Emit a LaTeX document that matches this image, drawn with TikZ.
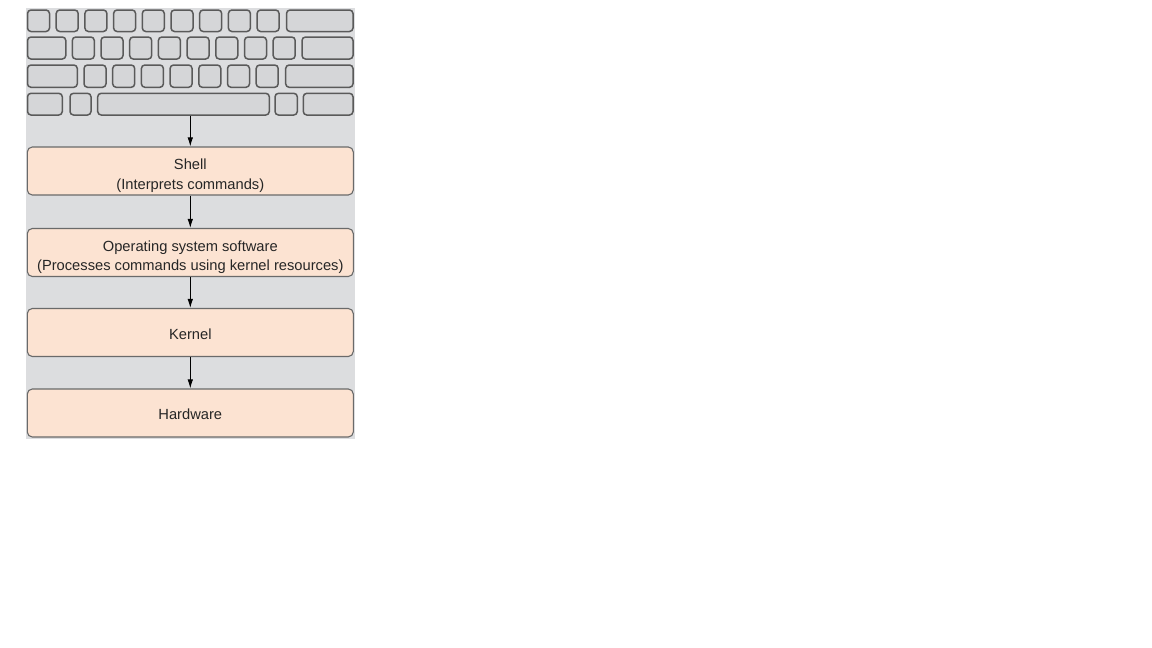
\documentclass[tikz,border=0pt]{standalone}
\usepackage{fontspec}
\setmainfont{Liberation Sans}
\usetikzlibrary{arrows.meta}
\definecolor{bggray}{HTML}{DCDDDF}
\definecolor{keyfill}{HTML}{D5D6D8}
\definecolor{keyline}{HTML}{5A5A5A}
\definecolor{peach}{HTML}{FCE3D2}
\definecolor{boxline}{HTML}{6A6A6A}
\tikzset{
  keystyle/.style={draw=keyline, fill=keyfill, line width=1.5pt, rounded corners=3.5pt},
  layerbox/.style={draw=boxline, fill=peach, line width=1.1pt, rounded corners=5pt,
    minimum width=326pt, minimum height=48pt, inner sep=0pt},
  layertext/.style={align=center, inner sep=0pt,
    font=\fontsize{14.7}{19.5}\selectfont, text=black!85},
  flow/.style={draw=black, line width=0.9pt, -{Latex[length=9pt,width=5.5pt]}}
}
\begin{document}
\begin{tikzpicture}[x=1pt,y=-1pt]
\useasboundingbox (0,0) rectangle (1152,648);
\fill[white] (0,0) rectangle (1152,648);
\fill[bggray] (26,8) rectangle (355,439);
% row 1
\foreach \x in {27.5,56.2,84.9,113.6,142.3,171,199.7,228.4,257.1}
  \draw[keystyle] (\x,10) rectangle ++(22,21.5);
\draw[keystyle] (286.5,10) rectangle (353,31.5);
% row 2
\draw[keystyle] (27.5,37) rectangle (65.8,59);
\foreach \x in {72.3,101,129.7,158.4,187.1,215.8,244.5,273.2}
  \draw[keystyle] (\x,37) rectangle ++(22,22);
\draw[keystyle] (302,37) rectangle (353,59);
% row 3
\draw[keystyle] (27.5,65) rectangle (77.3,87.3);
\foreach \x in {84,112.7,141.4,170.1,198.8,227.5,256.2}
  \draw[keystyle] (\x,65) rectangle ++(22,22.3);
\draw[keystyle] (285.7,65) rectangle (353,87.3);
% row 4
\draw[keystyle] (27.5,93.3) rectangle (62.3,115);
\draw[keystyle] (70,93.3) rectangle (91,115);
\draw[keystyle] (97.7,93.3) rectangle (269.3,115);
\draw[keystyle] (275,93.3) rectangle (297.3,115);
\draw[keystyle] (303.3,93.3) rectangle (353,115);
\coordinate (kb) at (190.3,115.8);
% layers
\node[layerbox] (shell) at (190.3,171) {};
\node[layerbox] (os) at (190.3,252.5) {};
\node[layerbox] (kernel) at (190.3,332.5) {};
\node[layerbox] (hw) at (190.3,413) {};
\node[layertext] (shelltxt) at ([yshift=-4.5pt]shell.center) {Shell\\(Interprets commands)};
\node[layertext] (ostxt) at ([yshift=-4.5pt]os.center) {Operating system software\\(Processes commands using kernel resources)};
\node[layertext] (kerneltxt) at ([yshift=-1.5pt]kernel.center) {Kernel};
\node[layertext] (hwtxt) at ([yshift=-1.5pt]hw.center) {Hardware};
\draw[flow] (kb) -- (shell.north);
\draw[flow] (shell.south) -- (os.north);
\draw[flow] (os.south) -- (kernel.north);
\draw[flow] (kernel.south) -- (hw.north);
\end{tikzpicture}
\end{document}
